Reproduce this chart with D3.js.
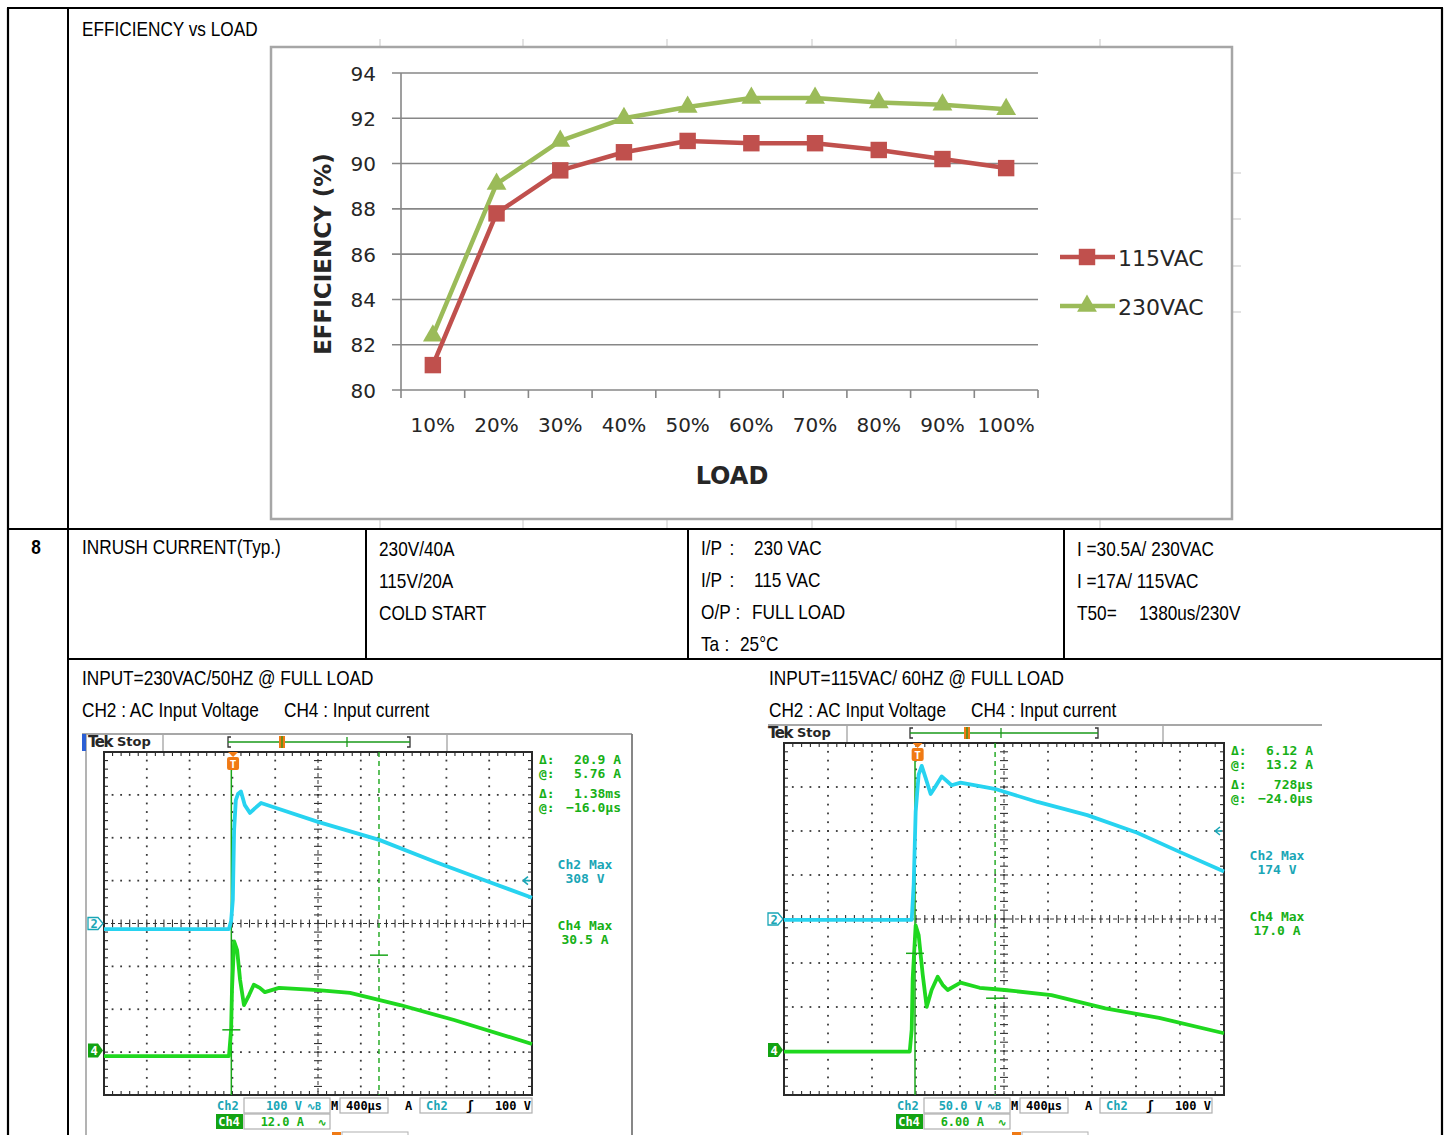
<!DOCTYPE html>
<html><head><meta charset="utf-8">
<script src="https://cdn.jsdelivr.net/npm/d3@7"></script>
<style>
html,body{margin:0;padding:0;background:#fff;}
svg{display:block;}
.tbl{font-family:"Liberation Sans",Arial,sans-serif;font-size:21px;fill:#000;}
.ch{font-family:"DejaVu Sans",Verdana,sans-serif;fill:#262626;}
.mono{font-family:"DejaVu Sans Mono",monospace;font-weight:bold;}
</style></head><body>
<svg id="page" width="1451" height="1135"></svg>
<script>
// ================= DATA =================
const loadLabels = ["10%","20%","30%","40%","50%","60%","70%","80%","90%","100%"];
const eff115 = [81.1, 87.8, 89.7, 90.5, 91.0, 90.9, 90.9, 90.6, 90.2, 89.8];
const eff230 = [82.4, 89.1, 91.0, 92.0, 92.5, 92.9, 92.9, 92.7, 92.6, 92.4];
const effTicks = [80, 82, 84, 86, 88, 90, 92, 94];
const seriesNames = ["115VAC", "230VAC"];

// oscilloscope traces: [time µs from screen left, value] (Ch2 in V, Ch4 in A)
const s230Ch2 = [[0,-13],[1168,-13],[1188,6],[1204,55],[1216,218],[1232,288],[1252,302],[1280,308],[1316,276],[1364,258],[1412,269],[1468,281],[1552,274],[2000,237],[2572,195],[3104,143],[3600,97],[4000,60]];
const s230Ch4 = [[0,-1.6],[1168,-1.6],[1188,5.8],[1196,16.9],[1216,30.5],[1244,28.1],[1272,19.7],[1308,12.7],[1356,15.5],[1400,18.4],[1456,17.5],[1504,16.3],[1636,17.5],[2000,16.9],[2300,16.1],[2768,12.7],[3272,8.5],[4000,1.8]];
const s115Ch2 = [[0,-1],[1161,-1],[1179,39],[1197,122],[1224,164],[1252,174],[1288,160],[1333,142],[1379,151],[1433,162],[1524,152],[1605,155],[1914,148],[2304,133],[2757,118],[3211,98],[3601,76],[4000,54]];
const s115Ch4 = [[0,-0.2],[1143,-0.2],[1161,2.8],[1170,9.8],[1197,17.0],[1224,15.7],[1261,10.3],[1297,5.9],[1342,8.2],[1397,10.0],[1442,8.9],[1488,8.2],[1605,9.2],[1778,8.5],[2005,8.2],[2431,7.5],[2921,5.7],[3410,4.4],[4000,2.3]];
const s230CursorT = [1190, 2570];
const s230CursorA = [5.76, 26.66];
const s115CursorT = [1191, 1919];
const s115CursorA = [13.2, 7.08];
const s230Readouts = ["20.9 A", "5.76 A", "1.38ms", "\u221216.0\u00b5s"];
const s115Readouts = ["6.12 A", "13.2 A", "728\u00b5s", "\u221224.0\u00b5s"];
const s230Max = ["Ch2 Max", "308 V", "Ch4 Max", "30.5 A"];
const s115Max = ["Ch2 Max", "174 V", "Ch4 Max", "17.0 A"];

// ================= PAGE =================
const svg = d3.select("#page");
const T = svg.append("g");
const NARROW = 0.82;
const TN = svg.append("g").attr("transform", `scale(${NARROW},1)`);
function ln(g, x1, y1, x2, y2, stroke, w, dash) {
  const l = g.append("line").attr("x1", x1).attr("y1", y1).attr("x2", x2).attr("y2", y2)
    .attr("stroke", stroke).attr("stroke-width", w);
  if (dash) l.attr("stroke-dasharray", dash);
  return l;
}
function tx(g, x, y, s, cls, extra) {
  const t = g.append("text").attr("x", x).attr("y", y).attr("class", cls || "tbl").text(s);
  if (extra) Object.entries(extra).forEach(([k, v]) => t.attr(k, v));
  return t;
}
// narrow table text (horizontally condensed)
function nt(x, y, s, extra) { return tx(TN, x / NARROW, y, s, "tbl", extra); }

// faint sheet remnants
const faint = svg.append("g");
[380, 523, 667, 812, 956, 1100].forEach(x => {
  ln(faint, x, 39, x, 47, "#d0d0d0", 1.2);
  ln(faint, x, 519, x, 528, "#d0d0d0", 1.2);
});
[173, 219, 266, 312].forEach(y => ln(faint, 1232, y, 1241, y, "#d0d0d0", 1.2));

// table lines
ln(T, 7, 8, 1443, 8, "#000", 2.2);
ln(T, 8, 8, 8, 1135, "#000", 2.2);
ln(T, 68, 8, 68, 1135, "#000", 2);
ln(T, 1442, 8, 1442, 1135, "#000", 2.2);
ln(T, 8, 529, 1442, 529, "#000", 2.2);
ln(T, 68, 659, 1442, 659, "#000", 2);
[366, 688, 1064].forEach(x => ln(T, x, 529, x, 659, "#000", 2));

// table texts
nt(82, 36, "EFFICIENCY vs LOAD");
nt(36, 554, "8", {"font-weight": "bold", "text-anchor": "middle"});
nt(82, 554, "INRUSH CURRENT(Typ.)");
nt(379, 556, "230V/40A");
nt(379, 588, "115V/20A");
nt(379, 620, "COLD START");
nt(701, 555, "I/P"); nt(732, 555, ":", {"text-anchor": "middle"}); nt(754, 555, "230 VAC");
nt(701, 587, "I/P"); nt(732, 587, ":", {"text-anchor": "middle"}); nt(754, 587, "115 VAC");
nt(701, 619, "O/P"); nt(738, 619, ":", {"text-anchor": "middle"}); nt(752, 619, "FULL LOAD");
nt(701, 651, "Ta"); nt(727, 651, ":", {"text-anchor": "middle"}); nt(740, 651, "25\u00b0C");
nt(1077, 556, "I =30.5A/ 230VAC");
nt(1077, 588, "I =17A/ 115VAC");
nt(1077, 620, "T50="); nt(1139, 620, "1380us/230V");
nt(82, 685, "INPUT=230VAC/50HZ @ FULL LOAD");
nt(82, 717, "CH2 : AC Input Voltage"); nt(284, 717, "CH4 : Input current");
nt(769, 685, "INPUT=115VAC/ 60HZ @ FULL LOAD");
nt(769, 717, "CH2 : AC Input Voltage"); nt(971, 717, "CH4 : Input current");

// ================= EFFICIENCY CHART =================
const C = svg.append("g");
C.append("rect").attr("x", 271).attr("y", 47).attr("width", 961).attr("height", 472)
  .attr("fill", "#fff").attr("stroke", "#a6a6a6").attr("stroke-width", 2.5);
const xS = d3.scaleBand().domain(loadLabels).range([401, 1038]);
const yS = d3.scaleLinear().domain([80, 94]).range([390, 73]);
const bw = xS.bandwidth();
const gridC = "#878787";
effTicks.forEach(t => {
  ln(C, 392, yS(t), 1038, yS(t), gridC, 1.6);
  tx(C, 376, yS(t) + 7.5, String(t), "ch", {"text-anchor": "end", "font-size": "20px"});
});
ln(C, 401, yS(94), 401, yS(80) + 8, gridC, 1.6);
loadLabels.forEach((l, i) => {
  ln(C, xS(l) + bw, yS(80), xS(l) + bw, yS(80) + 8, gridC, 1.6);
  tx(C, xS(l) + bw / 2, 432, l, "ch", {"text-anchor": "middle", "font-size": "20px"});
});
tx(C, 732, 484, "LOAD", "ch", {"text-anchor": "middle", "font-size": "24px", "font-weight": "bold", "fill": "#111"});
C.append("text").attr("class", "ch").attr("transform", "translate(331,254) rotate(-90)")
  .attr("text-anchor", "middle").attr("font-size", "23px").attr("font-weight", "bold").attr("fill", "#111")
  .text("EFFICIENCY (%)");

const colors = ["#c0504d", "#9bbb59"];
const lineGen = d3.line().x((d, i) => xS(loadLabels[i]) + bw / 2).y(d => yS(d));
const sqSym = d3.symbol(d3.symbolSquare, 270);
const triSym = d3.symbol(d3.symbolTriangle, 170);
[eff230, eff115].forEach((arr) => {
  const ci = arr === eff115 ? 0 : 1;
  C.append("path").attr("d", lineGen(arr)).attr("fill", "none").attr("stroke", colors[ci])
    .attr("stroke-width", 4.5).attr("stroke-linejoin", "round");
  C.selectAll(null).data(arr).enter().append("path")
    .attr("d", ci === 0 ? sqSym() : triSym())
    .attr("transform", (d, i) => `translate(${xS(loadLabels[i]) + bw / 2},${yS(d)})`)
    .attr("fill", colors[ci]);
});
// legend
seriesNames.forEach((n, i) => {
  const ly = 257 + i * 49;
  ln(C, 1060, ly, 1115, ly, colors[i], 4.5);
  C.append("path").attr("d", i === 0 ? sqSym() : triSym()).attr("transform", `translate(1087,${ly})`).attr("fill", colors[i]);
  tx(C, 1118, ly + 9, n, "ch", {"font-size": "22px"});
});

// ================= OSCILLOSCOPES =================
const CY = "#27d3f0", GR = "#1fd81f", TEAL = "#1aa6b6", RGREEN = "#17b017", ORANGE = "#f07a14";
function drawScope(cfg, d) {
  const g = svg.append("g");
  const {gx0, gx1, gy0, gy1} = cfg;
  const tS = d3.scaleLinear().domain([0, 4000]).range([gx0, gx1]);
  const dX = d3.scaleLinear().domain([0, 10]).range([gx0, gx1]);
  const dY = d3.scaleLinear().domain([-4, 4]).range([gy1, gy0]);
  const y2 = d3.scaleLinear().domain([(-4 - d.gnd2) * d.v2, (4 - d.gnd2) * d.v2]).range([gy1, gy0]);
  const y4 = d3.scaleLinear().domain([(-4 - d.gnd4) * d.v4, (4 - d.gnd4) * d.v4]).range([gy1, gy0]);

  // panel
  ln(g, cfg.panelL, gy0 - 18, cfg.panelR, gy0 - 18, "#8a8a8a", 1.5);
  if (cfg.frame) {
    ln(g, cfg.panelL + 4, gy0 - 18, cfg.panelL + 4, 1135, "#9a9a9a", 1.5);
    ln(g, cfg.panelR, gy0 - 18, cfg.panelR, 1135, "#7a7a7a", 1.8);
    g.append("rect").attr("x", cfg.panelL).attr("y", gy0 - 18).attr("width", 4).attr("height", 17).attr("fill", "#2c5fd4");
  }
  // header
  tx(g, gx0 - 16, gy0 - 5, "Tek", "ch", {"font-size": "15px", "font-weight": "bold", "fill": "#000", "letter-spacing": "-1.5"});
  tx(g, gx0 + 13, gy0 - 6, "Stop", "ch", {"font-size": "13px", "fill": "#000", "font-weight": "bold"});
  ln(g, gx0 + cfg.div1, gy0 - 17, gx0 + cfg.div1, gy0 - 1, "#999", 1.2);
  ln(g, gx0 + cfg.div2, gy0 - 17, gx0 + cfg.div2, gy0 - 1, "#999", 1.2);
  const bx0 = gx0 + cfg.rec[0], bx1 = gx0 + cfg.rec[1], by = gy0 - 10;
  g.append("path").attr("d", `M${bx0 + 3},${by - 5}H${bx0}V${by + 5}H${bx0 + 3}M${bx1 - 3},${by - 5}H${bx1}V${by + 5}H${bx1 - 3}`)
    .attr("fill", "none").attr("stroke", "#333").attr("stroke-width", 1.3);
  ln(g, bx0, by, bx1, by, "#1a9a1a", 1.5);
  g.append("rect").attr("x", gx0 + cfg.recMarks[0] - 3).attr("y", by - 6).attr("width", 6).attr("height", 12).attr("fill", ORANGE);
  ln(g, gx0 + cfg.recMarks[0], by - 6, gx0 + cfg.recMarks[0], by + 6, "#1a9a1a", 1.2);
  ln(g, gx0 + cfg.recMarks[1], by - 5, gx0 + cfg.recMarks[1], by + 5, "#1a9a1a", 1.3);

  // graticule dots
  const dots = [];
  for (let i = 1; i <= 9; i++) { if (i === 5) continue; for (let k = 0; k <= 40; k++) dots.push([dX(i), dY(-4 + k * 0.2)]); }
  for (let j = -3; j <= 3; j++) { if (j === 0) continue; for (let k = 0; k <= 50; k++) dots.push([dX(k * 0.2), dY(j)]); }
  g.selectAll(null).data(dots).enter().append("rect")
    .attr("x", p => p[0] - 0.9).attr("y", p => p[1] - 0.9).attr("width", 1.8).attr("height", 1.8).attr("fill", "#3a3a3a");
  // center lines with ticks
  ln(g, dX(5), gy0, dX(5), gy1, "#333", 1, "4,3");
  ln(g, gx0, dY(0), gx1, dY(0), "#333", 1, "4,3");
  for (let k = 0; k <= 40; k++) ln(g, dX(5) - 4, dY(-4 + k * 0.2), dX(5) + 4, dY(-4 + k * 0.2), "#333", 1.1);
  for (let k = 0; k <= 50; k++) ln(g, dX(k * 0.2), dY(0) - 4, dX(k * 0.2), dY(0) + 4, "#333", 1.1);
  // frame with ticks
  g.append("rect").attr("x", gx0).attr("y", gy0).attr("width", gx1 - gx0).attr("height", gy1 - gy0)
    .attr("fill", "none").attr("stroke", "#2a2a2a").attr("stroke-width", 2);
  for (let k = 0; k <= 50; k++) { ln(g, dX(k * 0.2), gy0, dX(k * 0.2), gy0 + 4, "#2a2a2a", 1.1); ln(g, dX(k * 0.2), gy1, dX(k * 0.2), gy1 - 4, "#2a2a2a", 1.1); }
  for (let k = 0; k <= 40; k++) { ln(g, gx0, dY(-4 + k * 0.2), gx0 + 4, dY(-4 + k * 0.2), "#2a2a2a", 1.1); ln(g, gx1, dY(-4 + k * 0.2), gx1 - 4, dY(-4 + k * 0.2), "#2a2a2a", 1.1); }

  // cursors
  ln(g, tS(d.curT[0]), gy0 + 18, tS(d.curT[0]), gy1, "#1aa61a", 1.5);
  ln(g, tS(d.curT[1]), gy0, tS(d.curT[1]), gy1, "#1aa61a", 1.4, "5,4");

  // traces
  const l2 = d3.line().x(p => tS(p[0])).y(p => y2(p[1]));
  const l4 = d3.line().x(p => tS(p[0])).y(p => y4(p[1]));
  g.append("path").attr("d", l2(d.ch2)).attr("fill", "none").attr("stroke", CY).attr("stroke-width", 3.8).attr("stroke-linejoin", "round");
  g.append("path").attr("d", l4(d.ch4)).attr("fill", "none").attr("stroke", GR).attr("stroke-width", 3.8).attr("stroke-linejoin", "round");
  // crosshairs
  d.curA.forEach((a, i) => ln(g, tS(d.curT[i]) - 9, y4(a), tS(d.curT[i]) + 9, y4(a), "#1aa61a", 1.5));

  // trigger marker
  const trX = tS(d.trig);
  g.append("path").attr("d", `M${trX - 5},${gy0}L${trX + 5},${gy0}L${trX},${gy0 + 5}Z`).attr("fill", ORANGE);
  g.append("rect").attr("x", trX - 6).attr("y", gy0 + 5).attr("width", 12).attr("height", 13).attr("rx", 2).attr("fill", ORANGE);
  tx(g, trX, gy0 + 16, "T", "mono", {"text-anchor": "middle", "font-size": "11px", "fill": "#fff"});
  // trigger level arrow
  const tly = y2(d.trigLevel);
  g.append("path").attr("d", `M${gx1 - 9},${tly}L${gx1 - 4},${tly - 4}M${gx1 - 9},${tly}L${gx1 - 4},${tly + 4}M${gx1 - 9},${tly}H${gx1 - 2}`)
    .attr("stroke", TEAL).attr("stroke-width", 1.6).attr("fill", "none");
  // ground markers
  const g2 = y2(0), g4 = y4(0);
  g.append("path").attr("d", `M${gx0 - 16},${g2 - 6}H${gx0 - 6}L${gx0 - 1},${g2}L${gx0 - 6},${g2 + 6}H${gx0 - 16}Z`)
    .attr("fill", "#fff").attr("stroke", TEAL).attr("stroke-width", 1.3);
  tx(g, gx0 - 10, g2 + 4.5, "2", "mono", {"text-anchor": "middle", "font-size": "12px", "fill": TEAL});
  g.append("path").attr("d", `M${gx0 - 16},${g4 - 7}H${gx0 - 6}L${gx0 - 1},${g4}L${gx0 - 6},${g4 + 7}H${gx0 - 16}Z`).attr("fill", "#13a313");
  tx(g, gx0 - 10, g4 + 4.5, "4", "mono", {"text-anchor": "middle", "font-size": "12px", "fill": "#fff"});

  // readouts
  const ry = [12, 26, 46, 60];
  d.readouts.forEach((s, i) => {
    tx(g, gx1 + 7, gy0 + ry[i], i % 2 === 0 ? "\u0394:" : "@:", "mono", {"font-size": "13px", "fill": RGREEN});
    tx(g, gx1 + 89, gy0 + ry[i], s, "mono", {"font-size": "13px", "fill": RGREEN, "text-anchor": "end"});
  });
  const my = [117, 131, 178, 192];
  d.maxLabels.forEach((s, i) => {
    tx(g, gx1 + 53, gy0 + my[i], s, "mono", {"font-size": "13px", "fill": i < 2 ? TEAL : RGREEN, "text-anchor": "middle"});
  });

  // bottom status
  const r1 = gy1 + 15, r2 = gy1 + 31;
  const box = (x0, x1, y) => g.append("rect").attr("x", gx0 + x0).attr("y", y - 12).attr("width", x1 - x0).attr("height", 15)
    .attr("fill", "#fff").attr("stroke", "#b0b0b0").attr("stroke-width", 1.2);
  box(140, 226, r1); box(236, 284, r1); box(316, 428, r1); box(140, 226, r2);
  tx(g, gx0 + 113, r1, "Ch2", "mono", {"font-size": "12px", "fill": TEAL});
  tx(g, gx0 + 198, r1, d.ch2Scale, "mono", {"font-size": "12px", "fill": TEAL, "text-anchor": "end"});
  tx(g, gx0 + 203, r1, "\u223fB", "mono", {"font-size": "10px", "fill": TEAL});
  tx(g, gx0 + 227, r1, "M", "mono", {"font-size": "12px", "fill": "#000"});
  tx(g, gx0 + 260, r1, "400\u00b5s", "mono", {"font-size": "12px", "fill": "#000", "text-anchor": "middle"});
  tx(g, gx0 + 301, r1, "A", "mono", {"font-size": "12px", "fill": "#000"});
  tx(g, gx0 + 322, r1, "Ch2", "mono", {"font-size": "12px", "fill": TEAL});
  tx(g, gx0 + 362, r1, "\u0283", "mono", {"font-size": "13px", "fill": "#000"});
  tx(g, gx0 + 427, r1, "100 V", "mono", {"font-size": "12px", "fill": "#000", "text-anchor": "end"});
  g.append("rect").attr("x", gx0 + 112).attr("y", r2 - 12).attr("width", 27).attr("height", 15).attr("fill", "#13a313");
  tx(g, gx0 + 125, r2, "Ch4", "mono", {"font-size": "12px", "fill": "#fff", "text-anchor": "middle"});
  tx(g, gx0 + 200, r2, d.ch4Scale, "mono", {"font-size": "12px", "fill": RGREEN, "text-anchor": "end"});
  tx(g, gx0 + 214, r2, "\u223f", "mono", {"font-size": "10px", "fill": RGREEN});
  g.append("rect").attr("x", gx0 + 228).attr("y", r2 + 6).attr("width", 9).attr("height", 10).attr("fill", ORANGE);
  g.append("rect").attr("x", gx0 + 238).attr("y", r2 + 6).attr("width", 66).attr("height", 14).attr("fill", "#fff").attr("stroke", "#b0b0b0");
  tx(g, gx0 + 242, r2 + 18, "30.20 %", "mono", {"font-size": "12px", "fill": "#000"});
}

drawScope({gx0: 104, gx1: 532, gy0: 752, gy1: 1095, panelL: 82, panelR: 632, frame: true, div1: 59, div2: 343, rec: [124, 306], recMarks: [178, 243]},
  {ch2: s230Ch2, ch4: s230Ch4, v2: 100, v4: 12, gnd2: 0, gnd4: -2.96, trig: 1206, curT: s230CursorT, curA: s230CursorA,
   trigLevel: 100, readouts: s230Readouts, maxLabels: s230Max, ch2Scale: "100 V", ch4Scale: "12.0 A"});
drawScope({gx0: 784, gx1: 1224, gy0: 743, gy1: 1095, panelL: 768, panelR: 1322, frame: false, div1: 63, div2: 379, rec: [126, 314], recMarks: [183, 217]},
  {ch2: s115Ch2, ch4: s115Ch4, v2: 50, v4: 6, gnd2: 0, gnd4: -2.98, trig: 1215, curT: s115CursorT, curA: s115CursorA,
   trigLevel: 100, readouts: s115Readouts, maxLabels: s115Max, ch2Scale: "50.0 V", ch4Scale: "6.00 A"});
</script>
</body></html>
